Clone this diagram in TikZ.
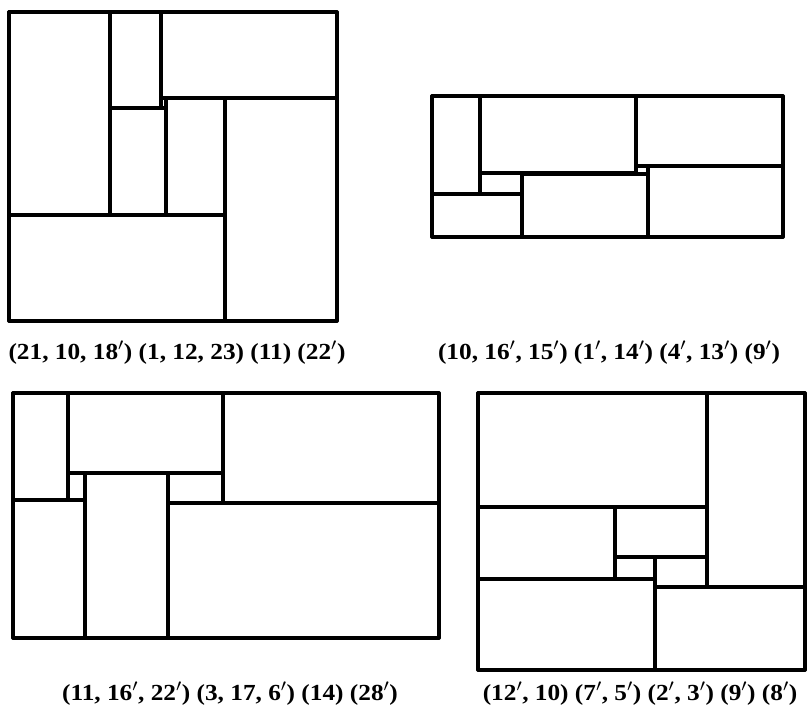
\documentclass[tikz,border=0pt]{standalone}
\usepackage{fontspec}
\setmainfont{Liberation Serif}
\tikzset {
  % one piece of a dissected rectangle
  tile/.style = {
    draw = black,
    line width = 3.2pt,
    line join = round
  },
  % outer frame of each dissection
  frame/.style = {
    tile,
    line width = 3.8pt
  },
  caption/.style = {
    inner sep = 0,
    font = \fontsize{23}{26}\selectfont\bfseries
  }
}
\newcommand{\pr}{$'$}
\newcommand{\widecap}[1]{\scalebox{1.1}[1]{#1}}

\begin{document}
\begin{tikzpicture}[x=1pt, y=-1pt]
    \useasboundingbox (0,0) rectangle (811,718);

    % top left
    \draw[tile] (9,12) rectangle (110,215);
    \draw[tile] (110,12) rectangle (161,108);
    \draw[tile] (161,12) rectangle (337,98);
    \draw[tile] (110,108) rectangle (166,215);
    \draw[tile] (166,98) rectangle (225,215);
    \draw[tile] (225,98) rectangle (337,321);
    \draw[tile] (9,215) rectangle (225,321);
    \draw[frame] (9,12) rectangle (337,321);
    \node[caption] (cap-a) at (177,353)
      {\widecap{(21, 10, 18\pr) (1, 12, 23) (11) (22\pr)}};

    % top right
    \draw[tile] (432,96) rectangle (480,194);
    \draw[tile] (480,96) rectangle (636,173);
    \draw[tile] (636,96) rectangle (783,166);
    \draw[tile] (480,173) rectangle (522,194);
    \draw[tile] (522,174) rectangle (648,237);
    \draw[tile] (648,166) rectangle (783,237);
    \draw[tile] (432,194) rectangle (522,237);
    \draw[frame] (432,96) rectangle (783,237);
    \node[caption] (cap-b) at (609,353)
      {\widecap{(10, 16\pr, 15\pr) (1\pr, 14\pr) (4\pr, 13\pr) (9\pr)}};

    % bottom left
    \draw[tile] (13,393) rectangle (68,500);
    \draw[tile] (68,393) rectangle (223,473);
    \draw[tile] (223,393) rectangle (439,503);
    \draw[tile] (68,473) rectangle (85,500);
    \draw[tile] (85,473) rectangle (168,638);
    \draw[tile] (168,473) rectangle (223,503);
    \draw[tile] (13,500) rectangle (85,638);
    \draw[tile] (168,503) rectangle (439,638);
    \draw[frame] (13,393) rectangle (439,638);
    \node[caption] (cap-c) at (230,694)
      {\widecap{(11, 16\pr, 22\pr) (3, 17, 6\pr) (14) (28\pr)}};

    % bottom right
    \draw[tile] (478,393) rectangle (707,507);
    \draw[tile] (707,393) rectangle (805,587);
    \draw[tile] (478,507) rectangle (615,579);
    \draw[tile] (615,507) rectangle (707,557);
    \draw[tile] (615,557) rectangle (655,579);
    \draw[tile] (655,557) rectangle (707,587);
    \draw[tile] (478,579) rectangle (655,670);
    \draw[tile] (655,587) rectangle (805,670);
    \draw[frame] (478,393) rectangle (805,670);
    \node[caption] (cap-d) at (640,694)
      {\widecap{(12\pr, 10) (7\pr, 5\pr) (2\pr, 3\pr) (9\pr) (8\pr)}};
\end{tikzpicture}
\end{document}
